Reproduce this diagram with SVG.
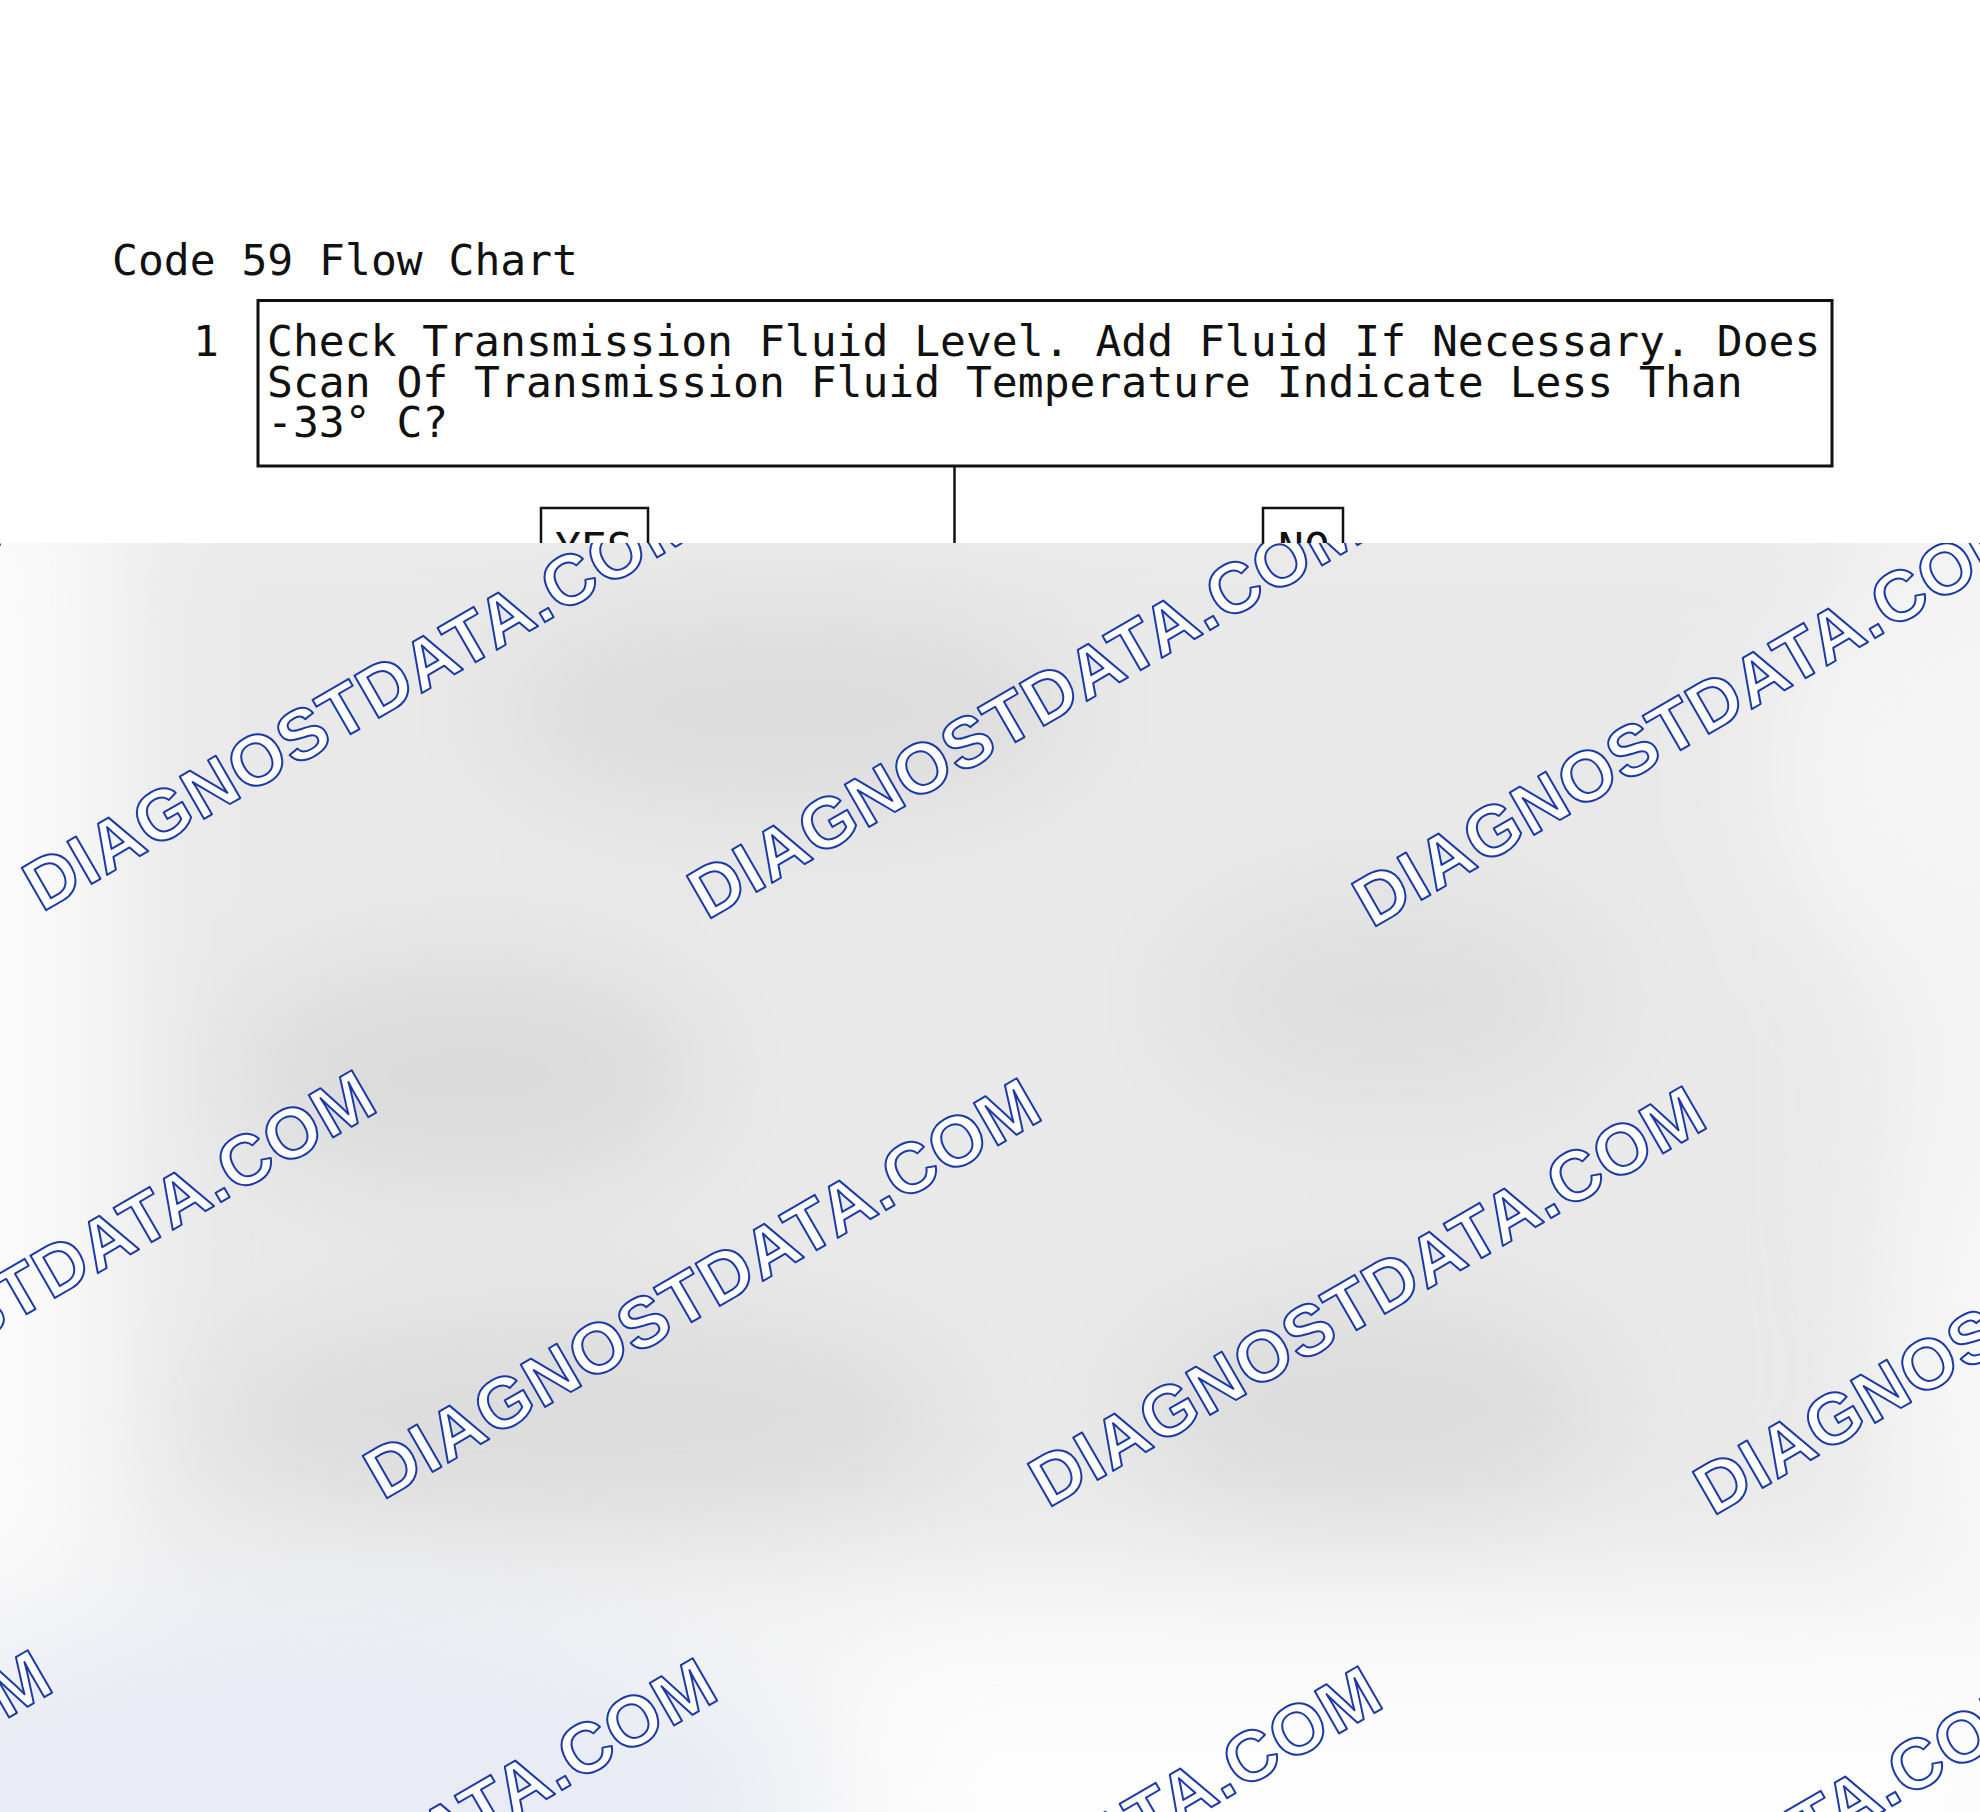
<svg xmlns="http://www.w3.org/2000/svg" width="1980" height="1812" viewBox="0 0 1980 1812">
<defs>
<style>
.mono{font-family:"DejaVu Sans Mono","Liberation Mono",monospace;font-size:43px;fill:#111}
.box{fill:#fff;stroke:#111;stroke-width:3}
.sbox{fill:#fff;stroke:#111;stroke-width:2.5}
.wire{stroke:#111;stroke-width:2.5;fill:none}
.wm{font-family:"Liberation Sans",Arial,sans-serif;font-weight:bold;font-size:71px;letter-spacing:1.2px;fill:#fff;stroke:#1c3aa6;stroke-width:2;stroke-linejoin:round}
</style>
<clipPath id="ov"><rect x="0" y="543" width="1980" height="1269"/></clipPath>
<filter id="bl" x="-30%" y="-30%" width="160%" height="160%"><feGaussianBlur stdDeviation="60"/></filter>
</defs>
<rect x="0" y="0" width="1980" height="1812" fill="#fff"/>
<g id="title"><text class="mono" x="112" y="275">Code 59 Flow Chart</text></g>
<g id="connectors"><line class="wire" x1="954.5" y1="466" x2="954.5" y2="570"/></g>
<g id="node-1">
<rect class="box" x="258" y="300.5" width="1574" height="165.5"/>
<text class="mono" x="206" y="356" text-anchor="middle">1</text>
<text class="mono" x="267" y="356">Check Transmission Fluid Level. Add Fluid If Necessary. Does</text>
<text class="mono" x="267" y="397">Scan Of Transmission Fluid Temperature Indicate Less Than</text>
<text class="mono" x="267" y="437">-33° C?</text>
</g>
<g id="node-yes"><rect class="sbox" x="541" y="508" width="107" height="75"/><text class="mono" x="555" y="563">YES</text></g>
<g id="node-no"><rect class="sbox" x="1263" y="508" width="80" height="75"/><text class="mono" x="1278" y="563">NO</text></g>
<g id="overlay" clip-path="url(#ov)">
<rect x="0" y="543" width="1980" height="1269" fill="#f4f4f4"/>
<g filter="url(#bl)">
<rect x="130" y="480" width="1760" height="1080" fill="#e9e9e9"/>
<ellipse cx="785" cy="710" rx="300" ry="100" fill="#dcdcdc"/>
<ellipse cx="470" cy="1075" rx="240" ry="110" fill="#dadada"/>
<ellipse cx="1390" cy="1000" rx="220" ry="110" fill="#dfdfdf"/>
<ellipse cx="580" cy="1420" rx="380" ry="110" fill="#dcdcdc"/>
<ellipse cx="1370" cy="1410" rx="240" ry="110" fill="#dcdcdc"/>
<rect x="-200" y="480" width="280" height="1120" fill="#fbfbfb"/>
<ellipse cx="1910" cy="770" rx="140" ry="200" fill="#f5f5f5"/>
<ellipse cx="1975" cy="1370" rx="80" ry="220" fill="#f8f8f8"/>
<ellipse cx="320" cy="1800" rx="480" ry="190" fill="#e9ecf5"/>
<rect x="860" y="1640" width="1200" height="300" fill="#fdfdfd"/>
</g>
<g id="watermarks">
<text class="wm" transform="translate(-623,904.5) rotate(-30)">DIAGNOSTDATA.COM</text>
<text class="wm" transform="translate(42,912.5) rotate(-30)">DIAGNOSTDATA.COM</text>
<text class="wm" transform="translate(707,920.5) rotate(-30)">DIAGNOSTDATA.COM</text>
<text class="wm" transform="translate(1372,928.5) rotate(-30)">DIAGNOSTDATA.COM</text>
<text class="wm" transform="translate(-282,1492.5) rotate(-30)">DIAGNOSTDATA.COM</text>
<text class="wm" transform="translate(383,1500.5) rotate(-30)">DIAGNOSTDATA.COM</text>
<text class="wm" transform="translate(1048,1508.5) rotate(-30)">DIAGNOSTDATA.COM</text>
<text class="wm" transform="translate(1713,1516.5) rotate(-30)">DIAGNOSTDATA.COM</text>
<text class="wm" transform="translate(-606,2072.5) rotate(-30)">DIAGNOSTDATA.COM</text>
<text class="wm" transform="translate(59,2080.5) rotate(-30)">DIAGNOSTDATA.COM</text>
<text class="wm" transform="translate(724,2088.5) rotate(-30)">DIAGNOSTDATA.COM</text>
<text class="wm" transform="translate(1389,2096.5) rotate(-30)">DIAGNOSTDATA.COM</text>
</g>
</g>
</svg>
